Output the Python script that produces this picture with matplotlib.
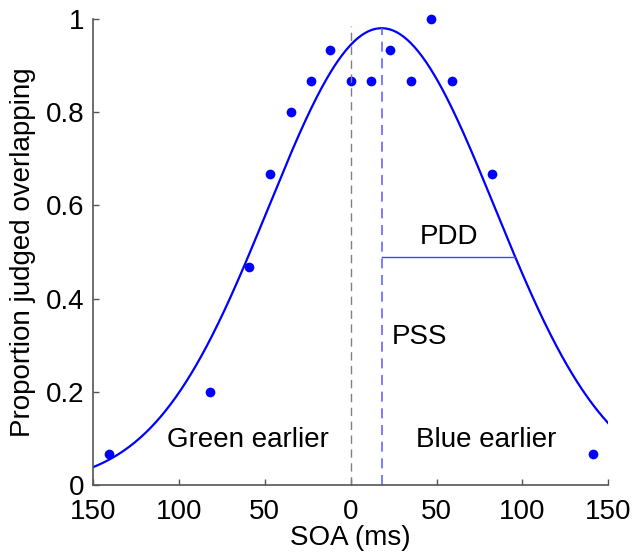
import numpy as np
import matplotlib
matplotlib.use('Agg')
import matplotlib.pyplot as plt

plt.rcParams['font.family'] = ['Liberation Sans', 'DejaVu Sans']

# data
soa = [-141, -82, -59, -47, -35, -23, -12, 0, 12, 23, 35, 47, 59, 82, 141]
prop = [0.067, 0.2, 0.467, 0.667, 0.8, 0.867, 0.933, 0.867,
        0.867, 0.933, 0.867, 1.0, 0.867, 0.667, 0.067]

# fitted gaussian parameters
amp = 0.98
pss = 18
sigma = 66
pdd_end = 95.5

xticks = [-150, -100, -50, 0, 50, 100, 150]
xticklabels = ['150', '100', '50', '0', '50', '100', '150']
yticks = [0, 0.2, 0.4, 0.6, 0.8, 1]
yticklabels = ['0', '0.2', '0.4', '0.6', '0.8', '1']

fig = plt.figure(figsize=(6.33, 5.55), dpi=100)
ax = fig.add_axes([0.147, 0.126, 0.814, 0.840])

xs = np.linspace(-150, 150, 400)
fit = amp * np.exp(-(xs - pss) ** 2 / (2 * sigma ** 2))
ax.plot(xs, fit, color='blue', lw=1.6)
ax.plot(soa, prop, 'o', color='blue', ms=7, mec='none', clip_on=False)

ax.plot([0, 0], [0, 0.985], ls=(0, (6, 4)), color='gray', lw=1)
ax.plot([pss, pss], [0, amp], ls=(0, (6, 4)), color='#6666ff', lw=1.2)
ax.plot([pss, pdd_end], [amp / 2, amp / 2], color='#4444ff', lw=1)

ax.text(57, 0.505, 'PDD', fontsize=20, ha='center', va='bottom')
ax.text(24, 0.317, 'PSS', fontsize=20, ha='left', va='center')
ax.text(-60, 0.097, 'Green earlier', fontsize=20, ha='center', va='center')
ax.text(79, 0.097, 'Blue earlier', fontsize=20, ha='center', va='center')

ax.set_xlim(-150, 150)
ax.set_ylim(0, 1)
ax.set_xticks(xticks)
ax.set_xticklabels(xticklabels)
ax.set_yticks(yticks)
ax.set_yticklabels(yticklabels)
ax.tick_params(direction='in', length=4, width=1, color='#555555', labelsize=20)
ax.tick_params(axis='x', pad=10)
ax.tick_params(axis='y', pad=6)
for s in ['top', 'right']:
    ax.spines[s].set_visible(False)
for s in ['left', 'bottom']:
    ax.spines[s].set_color('#555555')
    ax.spines[s].set_linewidth(1.2)
ax.set_xlabel('SOA (ms)', fontsize=20, labelpad=0)
ax.set_ylabel('Proportion judged overlapping', fontsize=20, labelpad=7)

fig.savefig('out.png', dpi=100)
